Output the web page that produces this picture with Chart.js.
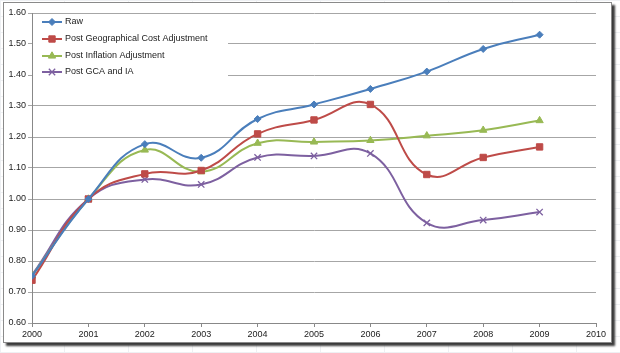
<!DOCTYPE html>
<html><head><meta charset="utf-8">
<script src="https://cdn.jsdelivr.net/npm/chart.js@4/dist/chart.umd.min.js"></script>
<style>
html,body{margin:0;padding:0;background:#fff;width:620px;height:353px;overflow:hidden;
background-image:linear-gradient(#eef0f3 1px,transparent 1px),linear-gradient(90deg,#eef0f3 1px,transparent 1px);
background-size:64px 16px;}
#frame{position:absolute;left:3px;top:2px;width:607px;height:339px;border:1px solid #8a8a8a;background:#fff;
box-shadow:3px 3px 2px #3a3a3a;}
canvas{display:block;}
</style></head><body>
<div id="frame"><canvas id="c" width="607" height="339"></canvas></div>
<script>
const years = [2000,2001,2002,2003,2004,2005,2006,2007,2008,2009];
const seriesNames = ["Raw","Post Geographical Cost Adjustment","Post Inflation Adjustment","Post GCA and IA"];
const raw  = [0.752,1.000,1.177,1.133,1.258,1.305,1.355,1.411,1.484,1.530];
const gca  = [0.738,1.000,1.081,1.092,1.210,1.255,1.305,1.079,1.134,1.168];
const infl = [0.752,1.000,1.158,1.088,1.180,1.184,1.189,1.204,1.222,1.253];
const both = [0.755,1.000,1.063,1.047,1.134,1.139,1.147,0.923,0.932,0.958];
const yTicks = [0.60,0.70,0.80,0.90,1.00,1.10,1.20,1.30,1.40,1.50,1.60];
const xTicks = [2000,2001,2002,2003,2004,2005,2006,2007,2008,2009,2010];

const colors = ["#4A7EBB","#BE4B48","#98B954","#7D60A0"];
const styles = ["rectRot","rect","triangle","crossRot"];
const radii = [3.5,4.5,4.2,4.5];
const vals = [raw,gca,infl,both];

const datasets = vals.map((v,i)=>({
  label: seriesNames[i],
  data: years.map((y,j)=>({x:y,y:v[j]})),
  borderColor: colors[i],
  backgroundColor: colors[i],
  pointBackgroundColor: colors[i],
  pointBorderColor: colors[i],
  pointStyle: styles[i],
  pointRadius: radii[i],
  pointBorderWidth: i===3?1.3:1,
  borderWidth: 2,
  tension: 0.45,
  fill:false
}));

const font = {family:"'Liberation Sans', Arial, sans-serif", size:9};

const legendPlugin = {
  id:'inLegend',
  afterDraw(chart){
    const ctx = chart.ctx; const a = chart.chartArea;
    ctx.save();
    ctx.fillStyle = '#fff';
    ctx.fillRect(a.left+1, a.top+1, 195, 68);
    const rowsY = [a.top+9, a.top+26, a.top+43, a.top+59];
    datasets.forEach((d,i)=>{
      const y = rowsY[i];
      const x0 = a.left+10, x1 = a.left+30;
      ctx.strokeStyle = d.borderColor; ctx.lineWidth = 2;
      ctx.beginPath(); ctx.moveTo(x0,y); ctx.lineTo(x1,y); ctx.stroke();
      ctx.fillStyle = d.borderColor; ctx.strokeStyle = d.borderColor; ctx.lineWidth = d.pointBorderWidth;
      Chart.helpers.drawPoint(ctx,{pointStyle:d.pointStyle, radius:d.pointRadius, rotation:0, borderWidth:d.pointBorderWidth}, (x0+x1)/2, y);
      ctx.fillStyle = '#222';
      ctx.font = "9px 'Liberation Sans', Arial, sans-serif";
      ctx.textBaseline = 'middle'; ctx.textAlign='left';
      ctx.fillText(d.label, x1+3, y);
    });
    ctx.restore();
  }
};

new Chart(document.getElementById('c'), {
  type:'line',
  data:{datasets},
  options:{
    responsive:false, animation:false,
    layout:{padding:{left:0,top:10,right:15,bottom:0}},
    plugins:{legend:{display:false}, tooltip:{enabled:false}},
    scales:{
      x:{type:'linear', min:2000, max:2010,
        afterBuildTicks(s){ s.ticks = xTicks.map(v=>({value:v})); },
        afterFit(s){ s.height = 19; },
        grid:{display:true, drawOnChartArea:false, drawTicks:true, tickLength:4, color:'#888'},
        border:{color:'#888'},
        ticks:{font, color:'#222', padding:2, maxRotation:0, callback:v=>String(v)}
      },
      y:{min:0.6, max:1.6,
        afterBuildTicks(s){ s.ticks = yTicks.map(v=>({value:v})); },
        afterFit(s){ s.width = 28; },
        grid:{color:'#a6a6a6', tickLength:4, lineWidth:1},
        border:{color:'#888'},
        ticks:{font, color:'#222', padding:2, callback:v=>Number(v).toFixed(2)}
      }
    }
  },
  plugins:[legendPlugin]
});
</script>
</body></html>
